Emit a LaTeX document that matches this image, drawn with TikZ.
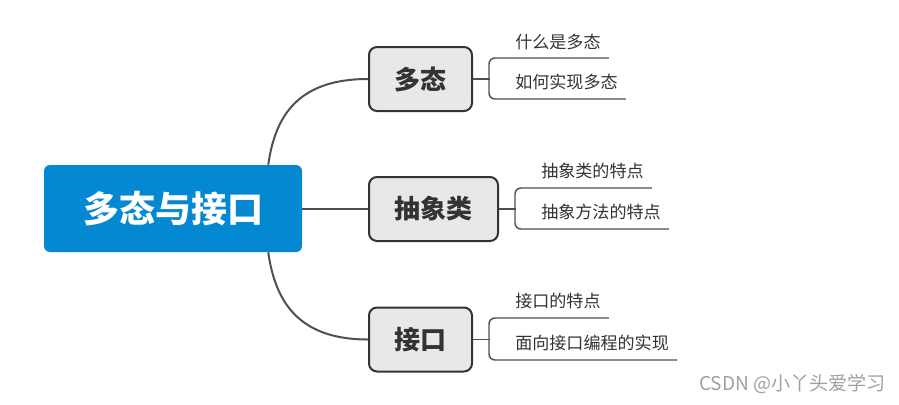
\documentclass[tikz,border=0pt]{standalone}
\usepackage{fontspec}
\setmainfont{Noto Sans CJK SC}
\usetikzlibrary{calc}
\definecolor{rootblue}{RGB}{3,136,209}
\definecolor{boxfill}{RGB}{232,232,232}
\definecolor{boxline}{RGB}{51,51,51}
\definecolor{linegray}{RGB}{80,80,80}
\definecolor{txtgray}{RGB}{51,51,51}
\definecolor{wmgray}{RGB}{160,160,160}
\begin{document}
\begin{tikzpicture}[x=0.75pt,y=-0.75pt,
  rootbox/.style={fill=rootblue, rounded corners=4.5pt, minimum width=193.5pt, minimum height=65.25pt,
    text=white, font=\bfseries\fontsize{27}{30}\selectfont, inner sep=0pt},
  topicbox/.style={fill=boxfill, draw=boxline, line width=1.5pt, rounded corners=6pt,
    minimum height=48pt, text=txtgray, font=\bfseries\fontsize{19.5}{22}\selectfont, inner sep=0pt},
  subtext/.style={anchor=west, inner sep=0pt, text=txtgray, font=\fontsize{12.8}{15}\selectfont},
  mainline/.style={draw=linegray, line width=1.5pt},
  subline/.style={draw=linegray, line width=1.1pt, rounded corners=4.5pt}]
\useasboundingbox (0,0) rectangle (899,404);

% nodes
\node[rootbox] (root) at (173,208.5) {多态与接口};
\node[topicbox, minimum width=77.25pt] (dt) at (420.5,79) {多态};
\node[topicbox, minimum width=96.75pt] (cx) at (433.5,209) {抽象类};
\node[topicbox, minimum width=77.25pt] (jk) at (420.5,339.5) {接口};

\node[subtext] (t11) at (515,42) {什么是多态};
\node[subtext] (t12) at (515,82) {如何实现多态};
\node[subtext] (t21) at (541,171) {抽象类的特点};
\node[subtext] (t22) at (541,212) {抽象方法的特点};
\node[subtext] (t31) at (515,301) {接口的特点};
\node[subtext] (t32) at (515,343) {面向接口编程的实现};

\node[anchor=east, inner sep=0pt, text=wmgray, font=\fontsize{14.3}{17}\selectfont] (wm) at (886,384) {CSDN @小丫头爱学习};

% main connectors
\coordinate (rtop) at ($(root.north east)+(-34,0)$);
\coordinate (rbot) at ($(root.south east)+(-34,0)$);
\draw[mainline] (rtop) .. controls ($(rtop)+(7,-50)$) and ($(dt.west)+(-69,0)$) .. (dt.west);
\draw[mainline] (root.east) -- (root.east -| cx.west);
\draw[mainline] (rbot) .. controls ($(rbot)+(7,50)$) and ($(jk.west)+(-69,0)$) .. (jk.west);

% sub-branches
\draw[subline] (dt.east) -- ++(17,0);
\draw[subline] ($(t11.east)+(8,16)$) -- ($(t11.west)+(-26,16)$) -- ($(t12.west)+(-26,17)$) -- ($(t12.east)+(8,17)$);

\draw[subline] (cx.east) -- ++(17,0);
\draw[subline] ($(t21.east)+(8,17)$) -- ($(t21.west)+(-26,17)$) -- ($(t22.west)+(-26,17)$) -- ($(t22.east)+(8,17)$);

\draw[subline] (jk.east) -- ++(17,0);
\draw[subline] ($(t31.east)+(8,17)$) -- ($(t31.west)+(-26,17)$) -- ($(t32.west)+(-26,17)$) -- ($(t32.east)+(8,17)$);
\end{tikzpicture}
\end{document}
